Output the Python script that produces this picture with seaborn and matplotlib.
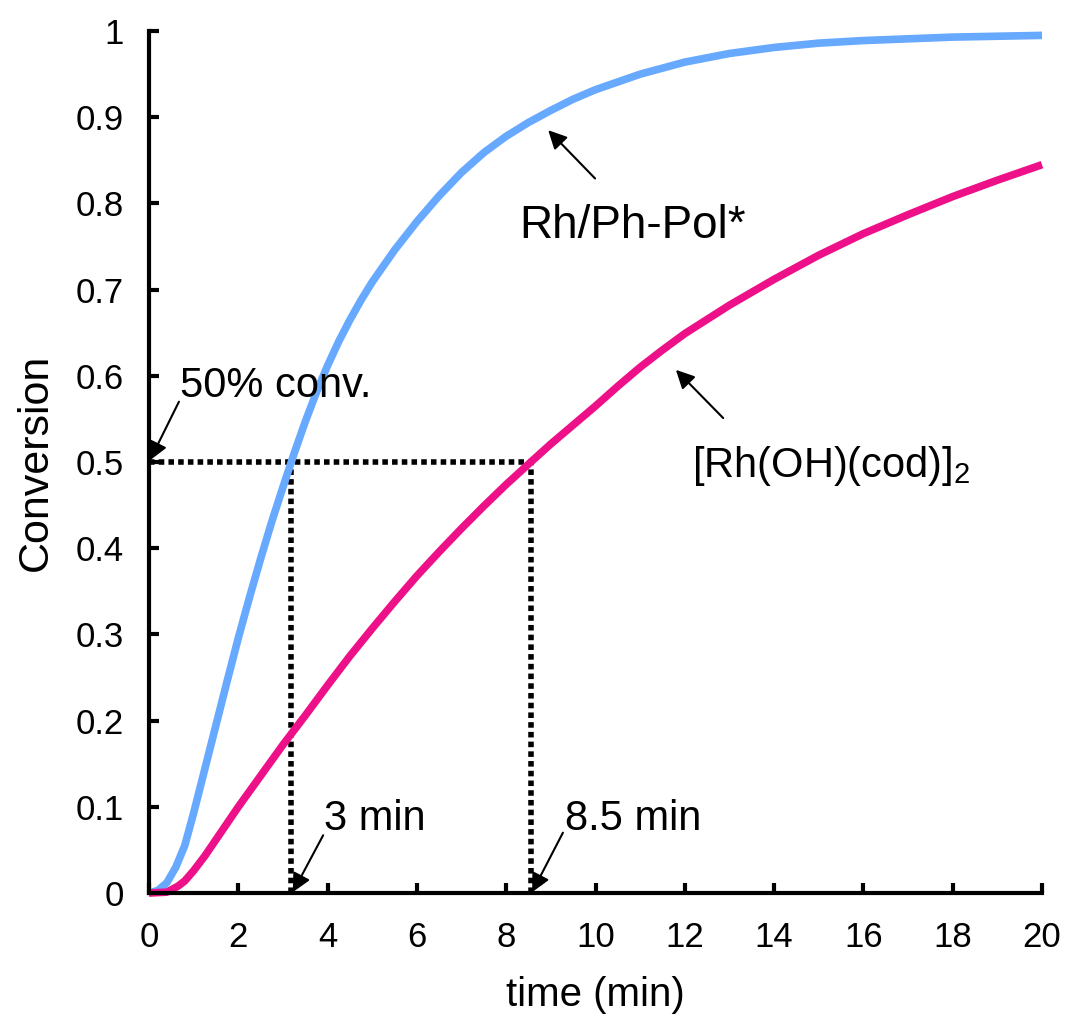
import matplotlib
matplotlib.use("Agg")
import matplotlib.pyplot as plt
import seaborn as sns
import pandas as pd

# ---- data ----
t_pol = [0, 0.2, 0.4, 0.6, 0.8, 1.0, 1.25, 1.5, 1.75, 2.0, 2.25, 2.5, 2.75, 3.0, 3.25, 3.5,
         3.75, 4.0, 4.25, 4.5, 4.75, 5.0, 5.5, 6.0, 6.5, 7.0, 7.5, 8.0, 8.5, 9.0, 9.5, 10,
         11, 12, 13, 14, 15, 16, 17, 18, 19, 20]
conv_pol = [0, 0.003, 0.012, 0.03, 0.055, 0.093, 0.144, 0.195, 0.246, 0.296, 0.343, 0.388,
            0.431, 0.471, 0.51, 0.547, 0.581, 0.612, 0.64, 0.665, 0.688, 0.709, 0.746, 0.779,
            0.809, 0.836, 0.859, 0.878, 0.894, 0.908, 0.921, 0.932, 0.95, 0.964, 0.974, 0.981,
            0.986, 0.989, 0.991, 0.993, 0.994, 0.995]

t_rh = [0, 0.4, 0.65, 0.8, 1.0, 1.25, 1.5, 1.75, 2.0, 2.5, 3.0, 3.5, 4.0, 4.5, 5.0, 5.5, 6.0,
        6.5, 7.0, 7.5, 8.0, 8.55, 9.0, 9.5, 10, 10.5, 11, 11.5, 12, 13, 14, 15, 16, 17, 18,
        19, 20]
conv_rh = [0, 0.001, 0.008, 0.014, 0.026, 0.043, 0.062, 0.081, 0.100, 0.136, 0.172, 0.206,
           0.241, 0.275, 0.307, 0.338, 0.368, 0.396, 0.423, 0.449, 0.474, 0.50, 0.521, 0.543,
           0.565, 0.588, 0.61, 0.63, 0.649, 0.682, 0.712, 0.74, 0.765, 0.787, 0.808, 0.827,
           0.845]

x_ticks = [0, 2, 4, 6, 8, 10, 12, 14, 16, 18, 20]
y_ticks = [0, 0.1, 0.2, 0.3, 0.4, 0.5, 0.6, 0.7, 0.8, 0.9, 1]
y_ticklabels = ["0", "0.1", "0.2", "0.3", "0.4", "0.5", "0.6", "0.7", "0.8", "0.9", "1"]

half_conv = 0.5
t_half_pol = 3.18
t_half_rh = 8.55

series_names = ["Rh/Ph-Pol*", "[Rh(OH)(cod)]2"]
colors = {"Rh/Ph-Pol*": "#66A9FF", "[Rh(OH)(cod)]2": "#EE1089"}

df = pd.concat([
    pd.DataFrame({"time": t_pol, "conv": conv_pol, "cat": series_names[0]}),
    pd.DataFrame({"time": t_rh, "conv": conv_rh, "cat": series_names[1]}),
])

sns.set_style("ticks")
plt.rcParams["font.family"] = ["Liberation Sans", "DejaVu Sans"]
plt.rcParams["mathtext.default"] = "regular"
plt.rcParams["text.color"] = "black"
plt.rcParams["axes.labelcolor"] = "black"
plt.rcParams["xtick.color"] = "black"
plt.rcParams["ytick.color"] = "black"

fig = plt.figure(figsize=(10.66, 10.22), dpi=100)
ax = fig.add_axes([0.1398, 0.1262, 0.8377, 0.8434])

sns.lineplot(data=df, x="time", y="conv", hue="cat", palette=colors, ax=ax,
             linewidth=5.5, legend=False, sort=True)
for l in ax.get_lines():
    l.set_solid_joinstyle("round")
    l.set_solid_capstyle("butt")

# dotted guide lines
dot = dict(color="black", lw=4, linestyle=(0, (1.0, 0.75)), dash_capstyle="butt", zorder=1)
ax.plot([0, t_half_rh], [half_conv, half_conv], **dot)
ax.plot([t_half_pol, t_half_pol], [0, half_conv], **dot)
ax.plot([t_half_rh, t_half_rh], [0, half_conv], **dot)

ax.set_xlim(0, 20)
ax.set_ylim(0, 1)
ax.set_xticks(x_ticks)
ax.set_yticks(y_ticks)
ax.set_yticklabels(y_ticklabels)
ax.tick_params(direction="in", length=7, width=3, labelsize=25, color="black",
               labelcolor="black")
ax.tick_params(axis="y", pad=18)
ax.tick_params(axis="x", pad=20)
for s in ["top", "right"]:
    ax.spines[s].set_visible(False)
for s in ["left", "bottom"]:
    ax.spines[s].set_linewidth(3)
    ax.spines[s].set_color("black")

ax.set_xlabel("time (min)", fontsize=29, labelpad=16, color="black")
ax.set_ylabel("Conversion", fontsize=31, labelpad=14, color="black")

arr = dict(arrowstyle="-|>", lw=1.5, color="black", mutation_scale=28, shrinkA=0, shrinkB=0)
fs = 30
ax.annotate("", xy=(8.94, 0.885), xytext=(9.99, 0.829), arrowprops=arr)
ax.text(10.84, 0.760, "Rh/Ph-Pol*", fontsize=33, ha="center", va="baseline", color="black")

ax.annotate("", xy=(11.80, 0.607), xytext=(12.86, 0.551), arrowprops=arr)
ax.text(12.16, 0.4826, r"$[Rh(OH)(cod)]_2$", fontsize=fs, ha="left", va="baseline", color="black")

ax.annotate("", xy=(0.02, 0.502), xytext=(0.67, 0.570), arrowprops=arr, annotation_clip=False)
ax.text(0.69, 0.575, "50% conv.", fontsize=fs, ha="left", va="baseline", color="black")

ax.annotate("", xy=(3.22, 0.001), xytext=(3.90, 0.067), arrowprops=arr)
ax.text(3.92, 0.073, "3 min", fontsize=fs, ha="left", va="baseline", color="black")

ax.annotate("", xy=(8.58, 0.001), xytext=(9.27, 0.070), arrowprops=arr)
ax.text(9.32, 0.073, "8.5 min", fontsize=fs, ha="left", va="baseline", color="black")

for l in ax.get_lines():
    l.set_clip_on(False)

fig.savefig("out.png", dpi=100, facecolor="white")
